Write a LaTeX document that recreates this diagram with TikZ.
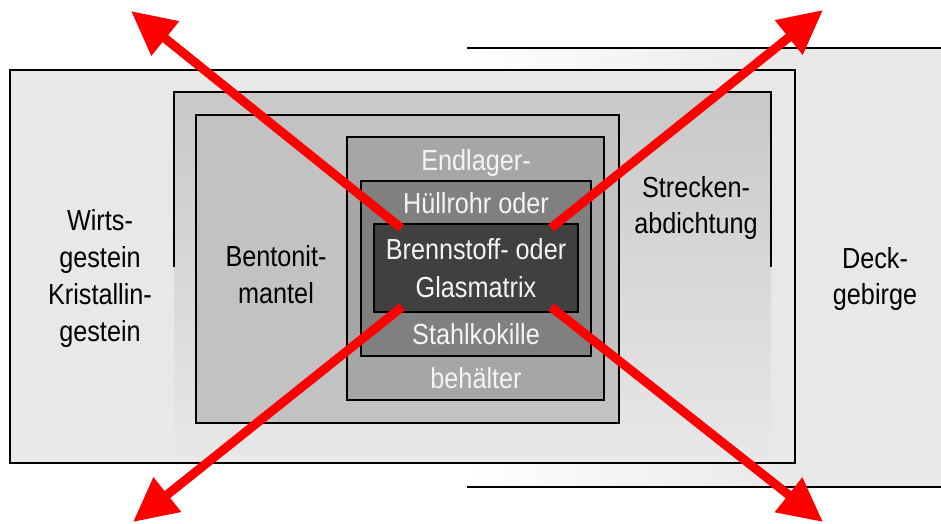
\documentclass[tikz,border=0pt]{standalone}
\usepackage{fontspec}
\setmainfont{Liberation Sans}[FakeStretch=0.87]
\usetikzlibrary{arrows.meta}
\definecolor{wirts}{HTML}{E8E8E8}
\definecolor{strecke}{HTML}{C8C8C8}
\definecolor{bento}{HTML}{C2C2C2}
\definecolor{endl}{HTML}{A6A6A6}
\definecolor{huell}{HTML}{808080}
\definecolor{brenn}{HTML}{404040}
\definecolor{wtxt}{HTML}{F4F4F4}
\begin{document}
\begin{tikzpicture}[x=1pt,y=-1pt,
  box/.style={draw=black,line width=1.5pt,inner sep=0pt,outer sep=0pt},
  edge/.style={draw=black,line width=1.5pt},
  lbl/.style={anchor=base,inner sep=0pt,font=\fontsize{29}{38}\selectfont},
  wlbl/.style={lbl,text=wtxt},
  redarrow/.style={draw=red,line width=9pt,-{Triangle[length=44pt,width=42pt]}}]
\useasboundingbox (0,0) rectangle (941,523);
% Deckgebirge
\fill[left color=white,right color=wirts] (467,48) rectangle (800,487);
\fill[wirts] (795,48) rectangle (945,487);
\coordinate (dTL) at (467,48);
\coordinate (dTR) at (945,48);
\coordinate (dBL) at (467,487);
\coordinate (dBR) at (945,487);
\draw[edge] (dTL) -- (dTR);
\draw[edge] (dBL) -- (dBR);
% Wirtsgestein
\node[box,fill=wirts,minimum width=785pt,minimum height=393pt] (wirts) at (402.5,266.5) {};
% Streckenabdichtung (open box)
\fill[top color=strecke,bottom color=wirts] (174,92) rectangle (771,461);
\coordinate (sBL) at (174,267);
\coordinate (sTR) at (771,92);
\coordinate (sBR) at (771,267);
\draw[edge] (sBL) |- (sTR) -- (sBR);
% Bentonitmantel
\node[box,fill=bento,minimum width=423pt,minimum height=308pt] (bento) at (407.5,269) {};
% Endlagerbehaelter
\node[box,fill=endl,minimum width=257pt,minimum height=263pt] (endl) at (475.5,268.5) {};
% Huellrohr / Stahlkokille
\node[box,fill=huell,minimum width=230pt,minimum height=175pt] (huell) at (476,268.5) {};
% Brennstoff
\node[box,fill=brenn,minimum width=204pt,minimum height=88pt] (brenn) at (476,268) {};
% labels
\node[lbl] (w1) at (100,230) {Wirts-};
\node[lbl] (w2) at (100,267) {gestein};
\node[lbl] (w3) at (100,304) {Kristallin-};
\node[lbl] (w4) at (100,341) {gestein};
\node[lbl] (b1) at (276,266) {Bentonit-};
\node[lbl] (b2) at (276,303) {mantel};
\node[lbl] (s1) at (696,197) {Strecken-};
\node[lbl] (s2) at (696,233) {abdichtung};
\node[lbl] (d1) at (875,268) {Deck-};
\node[lbl] (d2) at (875,304) {gebirge};
\node[wlbl] (e1) at (476,170) {Endlager-};
\node[wlbl] (h1) at (476,213) {Hüllrohr oder};
\node[wlbl] (g1) at (476,259) {Brennstoff- oder};
\node[wlbl] (g2) at (476,297) {Glasmatrix};
\node[wlbl] (h2) at (476,344) {Stahlkokille};
\node[wlbl] (e2) at (476,388) {behälter};
% arrows
\coordinate (ulS) at (401,228);
\coordinate (ulT) at (131,11);
\coordinate (urS) at (551,228);
\coordinate (urT) at (823,10);
\coordinate (llS) at (402,307);
\coordinate (llT) at (133,522);
\coordinate (lrS) at (551,307);
\coordinate (lrT) at (823,522);
\draw[redarrow] (ulS) -- (ulT);
\draw[redarrow] (urS) -- (urT);
\draw[redarrow] (llS) -- (llT);
\draw[redarrow] (lrS) -- (lrT);
\end{tikzpicture}
\end{document}
